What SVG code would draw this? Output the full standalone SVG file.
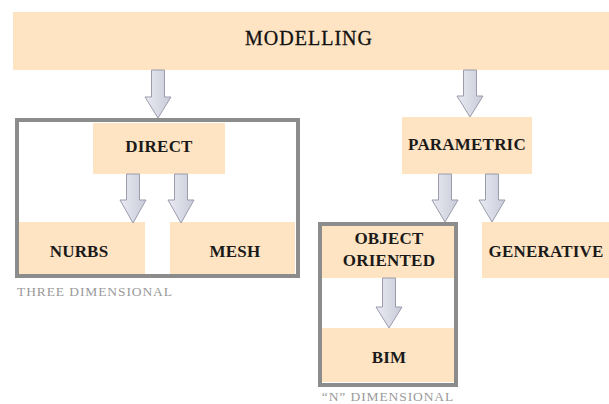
<svg xmlns="http://www.w3.org/2000/svg" width="609" height="404" viewBox="0 0 609 404">
<defs>
<linearGradient id="ag" x1="0" y1="0" x2="1" y2="0">
<stop offset="0" stop-color="#e9eaf2"/>
<stop offset="1" stop-color="#c9cbd9"/>
</linearGradient>
<style>
.node{fill:#fee4c3}
.lbl{font-family:"Liberation Serif","Times New Roman",serif;font-weight:bold;font-size:17px;letter-spacing:0.2px;fill:#1a1a1a;text-anchor:middle}
.top{font-family:"Liberation Serif","Times New Roman",serif;font-size:20px;letter-spacing:1px;fill:#111111;text-anchor:middle;stroke:#111111;stroke-width:0.3}
.cap{font-family:"Liberation Serif","Times New Roman",serif;font-size:13.5px;letter-spacing:0.9px;fill:#9a9a9a}
.box{fill:none;stroke:#8c8c8c;stroke-width:4}
.arr{fill:url(#ag);stroke:#9a9cab;stroke-width:1}
</style>
</defs>
<rect width="609" height="404" fill="#ffffff"/>
<g id="modelling"><rect class="node" x="13" y="12" width="596" height="58"/><text class="top" x="309" y="45">MODELLING</text></g>
<g id="direct"><rect class="node" x="93" y="123" width="132" height="51"/><text class="lbl" x="159" y="152">DIRECT</text></g>
<g id="nurbs"><rect class="node" x="17" y="222" width="128" height="53"/><text class="lbl" x="79" y="257">NURBS</text></g>
<g id="mesh"><rect class="node" x="170" y="222" width="125" height="53"/><text class="lbl" x="235" y="257">MESH</text></g>
<g id="parametric"><rect class="node" x="402" y="117" width="130" height="57"/><text class="lbl" x="467" y="150">PARAMETRIC</text></g>
<g id="object-oriented"><rect class="node" x="322" y="224" width="133" height="54"/><text class="lbl" x="389" y="244">OBJECT</text><text class="lbl" x="389" y="266">ORIENTED</text></g>
<g id="bim"><rect class="node" x="322" y="328" width="133" height="54"/><text class="lbl" x="389" y="363">BIM</text></g>
<g id="generative"><rect class="node" x="482" y="222" width="127" height="56"/><text class="lbl" x="546" y="257">GENERATIVE</text></g>
<g id="three-dimensional"><rect class="box" x="17" y="120" width="281" height="156"/><text class="cap" x="17" y="296">THREE DIMENSIONAL</text></g>
<g id="n-dimensional"><rect class="box" x="320" y="224" width="136" height="161"/><text class="cap" x="388" y="401" text-anchor="middle">“N” DIMENSIONAL</text></g>
<g id="connectors">
<path class="arr" d="M151.5 70H164.5V97H171L158 118L145 97H151.5Z"/>
<path class="arr" d="M463.5 70H476.5V96H483L470 117L457 96H463.5Z"/>
<path class="arr" d="M126.5 174H139.5V200H146L133 223L120 200H126.5Z"/>
<path class="arr" d="M174.5 174H187.5V200H194L181 223L168 200H174.5Z"/>
<path class="arr" d="M438.5 174H451.5V200H458L445 222L432 200H438.5Z"/>
<path class="arr" d="M485.5 174H498.5V200H505L492 222L479 200H485.5Z"/>
<path class="arr" d="M382.5 278H395.5V307H402L389 328L376 307H382.5Z"/>
</g>
</svg>
